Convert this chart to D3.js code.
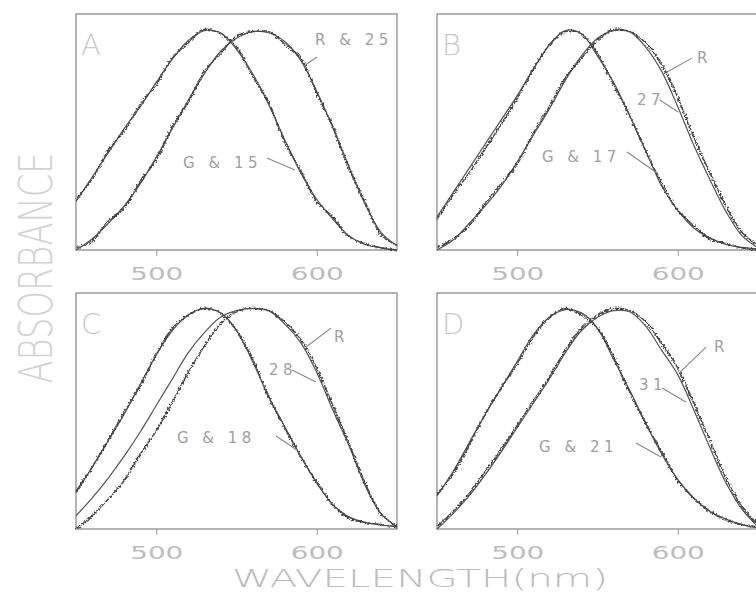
<!DOCTYPE html>
<html>
<head>
<meta charset="utf-8">
<script src="https://cdn.jsdelivr.net/npm/d3@7"></script>
<style>
  body { margin: 0; background: #fff; }
  text { font-family: "DejaVu Sans", sans-serif; }
</style>
</head>
<body>
<svg id="chart" width="756" height="611"></svg>
<script>
// wavelength grid (nm) used by every curve
var wavelengths = [450,460,470,480,490,500,510,520,530,540,550,560,570,580,590,600,610,620,630,640,650];

// panel A
var gA  = [0.22,0.33,0.44,0.55,0.65,0.76,0.865,0.95,0.995,0.985,0.91,0.80,0.66,0.50,0.35,0.23,0.14,0.065,0.025,0.01,0.0];
var d15 = [0.23,0.32,0.45,0.54,0.66,0.75,0.87,0.94,1.0,0.98,0.92,0.79,0.67,0.49,0.36,0.22,0.15,0.06,0.03,0.01,0.0];
var rA  = [0.0,0.05,0.12,0.20,0.30,0.42,0.55,0.68,0.80,0.90,0.96,0.99,0.985,0.945,0.86,0.72,0.555,0.38,0.21,0.08,0.02];
var d25 = [0.01,0.04,0.13,0.19,0.31,0.41,0.56,0.67,0.81,0.89,0.97,0.99,0.99,0.935,0.87,0.71,0.56,0.37,0.22,0.07,0.02];

// panel B
var gB  = [0.15,0.26,0.37,0.48,0.59,0.70,0.82,0.93,0.995,0.98,0.88,0.76,0.61,0.45,0.29,0.18,0.10,0.055,0.025,0.012,0.005];
var d17 = [0.14,0.25,0.35,0.46,0.57,0.69,0.82,0.93,0.99,0.98,0.89,0.75,0.61,0.45,0.30,0.18,0.11,0.05,0.03,0.01,0.0];
var rB  = [0.0,0.045,0.12,0.20,0.29,0.40,0.52,0.64,0.77,0.88,0.96,0.995,0.99,0.92,0.81,0.65,0.475,0.32,0.175,0.065,0.01];
var d27 = [0.01,0.05,0.11,0.21,0.30,0.39,0.53,0.65,0.78,0.87,0.95,1.0,0.99,0.94,0.84,0.69,0.51,0.35,0.20,0.08,0.02];

// panel C
var gC  = [0.165,0.28,0.40,0.52,0.655,0.79,0.90,0.97,1.0,0.98,0.90,0.76,0.60,0.465,0.33,0.21,0.11,0.055,0.03,0.018,0.01];
var d18 = [0.17,0.28,0.40,0.53,0.65,0.79,0.91,0.97,1.0,0.98,0.90,0.77,0.60,0.46,0.33,0.21,0.11,0.05,0.03,0.02,0.01];
var rC  = [0.06,0.14,0.23,0.33,0.44,0.56,0.68,0.80,0.89,0.96,0.99,1.0,0.99,0.93,0.845,0.71,0.54,0.38,0.20,0.07,0.01];
var d28 = [0.0,0.06,0.135,0.22,0.34,0.445,0.575,0.71,0.83,0.93,0.985,1.0,0.99,0.94,0.86,0.73,0.56,0.39,0.21,0.07,0.01];

// panel D
var gD  = [0.15,0.26,0.39,0.52,0.64,0.76,0.88,0.96,0.995,0.98,0.91,0.77,0.63,0.48,0.34,0.225,0.14,0.08,0.045,0.02,0.005];
var d21 = [0.16,0.25,0.38,0.52,0.64,0.75,0.87,0.96,1.0,0.97,0.91,0.78,0.62,0.48,0.35,0.22,0.14,0.08,0.04,0.02,0.01];
var rD  = [0.0,0.07,0.15,0.245,0.35,0.46,0.57,0.68,0.80,0.90,0.96,0.99,0.985,0.92,0.81,0.70,0.54,0.37,0.21,0.09,0.01];
var d31 = [0.01,0.08,0.16,0.26,0.36,0.47,0.58,0.69,0.81,0.91,0.97,1.0,0.99,0.94,0.84,0.73,0.57,0.40,0.23,0.10,0.02];

var tickValues = [500, 600];
var panelNames = ["A", "B", "C", "D"];

// curve labels: text + anchor in (wavelength, absorbance)
var labelsA = [["R & 25", 598.9, 0.929], ["G & 15", 516.7, 0.372]];
var labelsB = [["R", 612, 0.848], ["27", 574.6, 0.657], ["G & 17", 515.4, 0.399]];
var labelsC = [["R", 610.7, 0.848], ["28", 570.2, 0.698], ["G & 18", 512.9, 0.39]];
var labelsD = [["R", 622.6, 0.802], ["31", 575.9, 0.63], ["G & 21", 513.6, 0.349]];

// leader lines: [w1, v1, w2, v2]
var leadersA = [[600.2, 0.875, 592.1, 0.834], [569, 0.417, 586.4, 0.363]];
var leadersB = [[608.9, 0.870, 593.3, 0.807], [588.9, 0.680, 600.2, 0.626], [568.4, 0.444, 587.1, 0.349]];
var leadersC = [[608.9, 0.911, 593.3, 0.825], [584.6, 0.721, 599.5, 0.666], [574.6, 0.422, 587.7, 0.358]];
var leadersD = [[617.6, 0.825, 600.8, 0.707], [590.2, 0.639, 605.1, 0.576], [574, 0.390, 589.6, 0.326]];

var panels = [
    { name: panelNames[0], left: 76,  top: 14,  smooth: [gA, rA], measured: [d15, d25], labels: labelsA, leaders: leadersA },
    { name: panelNames[1], left: 437, top: 14,  smooth: [gB, rB], measured: [d17, d27], labels: labelsB, leaders: leadersB },
    { name: panelNames[2], left: 76,  top: 293, smooth: [gC, rC], measured: [d18, d28], labels: labelsC, leaders: leadersC },
    { name: panelNames[3], left: 437, top: 293, smooth: [gD, rD], measured: [d21, d31], labels: labelsD, leaders: leadersD }
];

var panelW = 321, panelH = 236;

var svg = d3.select("#chart");

// jagged look for the measured spectra
var filter = svg.append("defs").append("filter")
    .attr("id", "noise")
    .attr("x", "-5%").attr("y", "-5%")
    .attr("width", "110%").attr("height", "110%");
filter.append("feTurbulence")
    .attr("type", "fractalNoise")
    .attr("baseFrequency", 0.55)
    .attr("numOctaves", 1)
    .attr("seed", 4)
    .attr("result", "turb");
filter.append("feDisplacementMap")
    .attr("in", "SourceGraphic")
    .attr("in2", "turb")
    .attr("scale", 5)
    .attr("xChannelSelector", "R")
    .attr("yChannelSelector", "G");

var x = d3.scaleLinear().domain([450, 650]).range([0, panelW]);
var y = d3.scaleLinear().domain([0, 1.07]).range([panelH, 0]);

var line = d3.line()
    .x(function (d, i) { return x(wavelengths[i]); })
    .y(function (d) { return y(d); })
    .curve(d3.curveCatmullRom.alpha(0.5));

panels.forEach(function (p) {
    var g = svg.append("g").attr("transform", "translate(" + p.left + "," + p.top + ")");

    g.append("rect")
        .attr("width", panelW)
        .attr("height", panelH)
        .attr("fill", "none")
        .attr("stroke", "#8c8c8c")
        .attr("stroke-width", 1.3);

    var axis = g.append("g")
        .attr("transform", "translate(0," + panelH + ")")
        .call(d3.axisBottom(x).tickValues(tickValues).tickSize(6).tickPadding(11).tickFormat(d3.format("d")));
    axis.select(".domain").remove();
    axis.selectAll("line").attr("stroke", "#999");
    axis.selectAll("text")
        .attr("fill", "#bdbdbd")
        .style("font-size", "18px")
        .attr("textLength", 53)
        .attr("lengthAdjust", "spacingAndGlyphs");

    g.selectAll(".smooth")
        .data(p.smooth)
        .enter().append("path")
        .attr("d", line)
        .attr("fill", "none")
        .attr("stroke", "#555")
        .attr("stroke-width", 1.2);

    g.selectAll(".measured")
        .data(p.measured)
        .enter().append("path")
        .attr("d", line)
        .attr("fill", "none")
        .attr("stroke", "#444")
        .attr("stroke-width", 1.5)
        .attr("filter", "url(#noise)");

    g.selectAll(".leader")
        .data(p.leaders)
        .enter().append("line")
        .attr("x1", function (d) { return x(d[0]); })
        .attr("y1", function (d) { return y(d[1]); })
        .attr("x2", function (d) { return x(d[2]); })
        .attr("y2", function (d) { return y(d[3]); })
        .attr("stroke", "#888")
        .attr("stroke-width", 1.1);

    g.selectAll(".lbl")
        .data(p.labels)
        .enter().append("text")
        .attr("x", function (d) { return x(d[1]); })
        .attr("y", function (d) { return y(d[2]); })
        .attr("fill", "#a0a0a0")
        .style("font-size", "15px")
        .style("letter-spacing", "4.5px")
        .text(function (d) { return d[0]; });

    g.append("text")
        .attr("x", 5)
        .attr("y", 41)
        .attr("fill", "#c8c8c8")
        .style("font-size", "29px")
        .style("font-weight", "300")
        .text(p.name);
});

svg.append("text")
    .attr("transform", "translate(52,268) rotate(-90)")
    .attr("text-anchor", "middle")
    .attr("fill", "#d2d2d2")
    .attr("textLength", 231)
    .attr("lengthAdjust", "spacingAndGlyphs")
    .style("font-size", "46px")
    .style("font-weight", "300")
    .text("ABSORBANCE");

svg.append("text")
    .attr("x", 420)
    .attr("y", 587)
    .attr("text-anchor", "middle")
    .attr("fill", "#bcbcbc")
    .attr("textLength", 376)
    .attr("lengthAdjust", "spacingAndGlyphs")
    .style("font-size", "24px")
    .style("font-weight", "300")
    .text("WAVELENGTH(nm)");
</script>
</body>
</html>
